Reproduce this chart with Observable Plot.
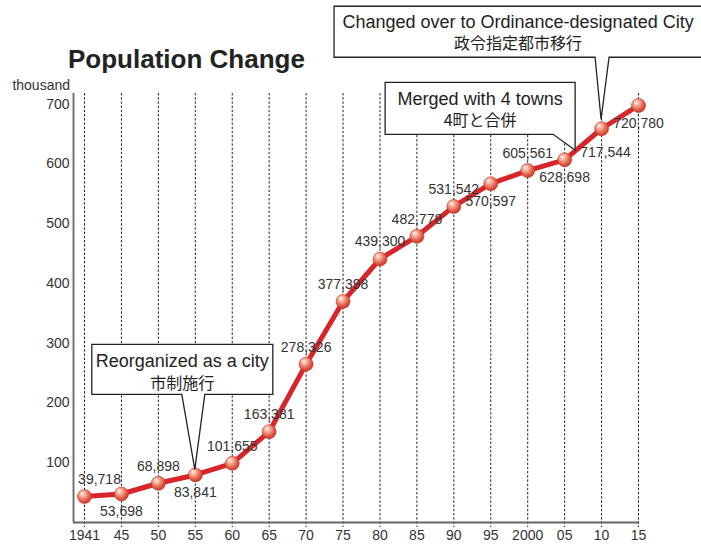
<!DOCTYPE html>
<html><head><meta charset="utf-8">
<script src="https://cdn.jsdelivr.net/npm/d3@7"></script>
<script src="https://cdn.jsdelivr.net/npm/@observablehq/plot@0.6"></script>
<style>
body{margin:0;background:#fff;}
#chart{position:relative;width:701px;height:544px;overflow:hidden;}
</style></head><body><div id="chart"></div>
<script>
// ---- data (population, thousand) ----
const years = ["1941","45","50","55","60","65","70","75","80","85","90","95","2000","05","10","15"];
const values = [43.5, 47.7, 65.7, 79.6, 99, 152, 265, 370, 441, 479, 529, 567, 589, 607, 659, 698];
const labels = ["39,718","53,698","68,898","83,841","101,655","163,381","278,326","377,398","439,300","482,778","531,542","570,597","605,561","628,698","717,544","720,780"];
const labelSide = ["aboveRight","below","above","below","above","above","above","above","above","above","above","below","above","below","belowRight","below"];
const yTicks = [100, 200, 300, 400, 500, 600, 700];
const yUnit = "thousand";
const title = "Population Change";
const annoYears = ["55", "05", "10"];
const annoEn = ["Reorganized as a city", "Merged with 4 towns", "Changed over to Ordinance-designated City"];
const annoJa = ["市制施行", "4町と合併", "政令指定都市移行"];

// ---- layout ----
const W = 701, H = 544;
const xMin = -0.298, xMax = years.length - 1;
const font = "'Liberation Sans', Arial, 'Noto Sans CJK JP', sans-serif";
const data = years.map((y, i) => ({i, year: y, v: values[i], label: labels[i], side: labelSide[i]}));
const sideStyle = {
  above: {dx: 0, dy: -17},
  aboveRight: {dx: 15, dy: -17},
  below: {dx: 0, dy: 18},
  belowRight: {dx: 4, dy: 24}
};
// callout geometry relative to the anchored data point (pixels)
const calloutLayout = [
  {tip: [0, -5], box: [-103, 78, -130, -80], base: [-13, 10], l1: 17, l2: 38},
  {tip: [11, -9], box: [-179, 11, -77, -25], base: [-11, 11], l1: 17, l2: 37},
  {tip: [0, -9], box: [-267, 101, -122, -71], base: [-6, 8], l1: 16, l2: 36}
];

const labelMarks = Object.entries(sideStyle).map(([side, s]) =>
  Plot.text(data.filter(d => d.side === side), {
    x: "i", y: "v", text: "label", dx: s.dx, dy: s.dy,
    fontSize: 14, fill: "#333"
  })
);

const plot = Plot.plot({
  width: W, height: H,
  marginTop: 93, marginBottom: 22, marginLeft: 73, marginRight: 63,
  style: {fontFamily: font, fontSize: "14px", color: "#333", background: "#fff", overflow: "visible"},
  x: {type: "linear", domain: [xMin, xMax], ticks: d3.range(years.length), tickFormat: i => years[i],
      tickSize: 0, tickPadding: 8, label: null},
  y: {domain: [0, 718], ticks: yTicks, tickSize: 0, tickPadding: 4, label: null},
  marks: [
    Plot.ruleX(data, {x: "i", stroke: "#222", strokeWidth: 1, strokeDasharray: "2.4,1.8", insetBottom: -5}),
    Plot.ruleY([0], {stroke: "#666", strokeWidth: 1.8}),
    Plot.ruleX([xMin], {stroke: "#666", strokeWidth: 1.8}),
    Plot.line(data, {x: "i", y: "v", stroke: "#d7262b", strokeWidth: 5, strokeLinejoin: "round"}),
    Plot.dot(data, {x: "i", y: "v", r: 7, fill: "url(#ball)", stroke: "#c8382a", strokeWidth: 0.6}),
    ...labelMarks
  ]
});

const svg = d3.select(plot);

// gradient for the spheres
const defs = svg.insert("defs", ":first-child");
const g = defs.append("radialGradient").attr("id", "ball")
  .attr("cx", 0.42).attr("cy", 0.38).attr("r", 0.62).attr("fx", 0.33).attr("fy", 0.28);
[[0, "#fff4ef"], [0.3, "#f7b4a3"], [0.72, "#e2604c"], [1, "#c8382a"]].forEach(([o, c]) =>
  g.append("stop").attr("offset", o).attr("stop-color", c));

// scales from the plot
const sx = plot.scale("x"), sy = plot.scale("y");
const fx = d3.scaleLinear().domain(sx.domain).range(sx.range);
const fy = d3.scaleLinear().domain(sy.domain).range(sy.range);

// title and unit
svg.append("text").attr("x", 68).attr("y", 68).attr("font-size", 26).attr("font-weight", "bold")
  .attr("text-anchor", "start").attr("fill", "#222").attr("font-family", font).text(title);
svg.append("text").attr("x", 70).attr("y", 85).attr("dominant-baseline", "central").attr("text-anchor", "end")
  .attr("font-size", 14).attr("fill", "#333").attr("font-family", font).text(yUnit);

// callouts
annoYears.forEach((yr, k) => {
  const d = data.find(e => e.year === yr);
  const px = fx(d.i), py = fy(d.v);
  const c = calloutLayout[k];
  const [L, R, T, B] = [px + c.box[0], px + c.box[1], py + c.box[2], py + c.box[3]];
  const tx = px + c.tip[0], ty = py + c.tip[1];
  const bl = px + c.base[0], br = px + c.base[1];
  const gA = svg.append("g");
  gA.append("path")
    .attr("d", `M${L},${T}H${R}V${B}H${br}L${tx},${ty}L${bl},${B}H${L}Z`)
    .attr("fill", "#fff").attr("stroke", "#222").attr("stroke-width", 1.3).attr("stroke-linejoin", "miter");
  const cx = (L + R) / 2;
  gA.append("text").attr("x", cx).attr("y", T + c.l1).attr("text-anchor", "middle")
    .attr("dominant-baseline", "central").attr("font-size", 18).attr("fill", "#222")
    .attr("font-family", font).text(annoEn[k]);
  gA.append("text").attr("x", cx).attr("y", T + c.l2).attr("text-anchor", "middle")
    .attr("dominant-baseline", "central").attr("font-size", 16).attr("fill", "#222")
    .attr("font-family", "'Noto Sans CJK JP', sans-serif").text(annoJa[k]);
});

document.getElementById("chart").appendChild(plot);
</script>
</body></html>
